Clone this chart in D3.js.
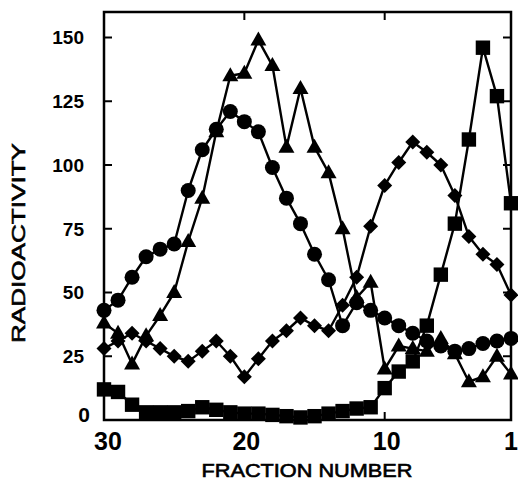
<!DOCTYPE html>
<html><head><meta charset="utf-8">
<script src="https://cdn.jsdelivr.net/npm/d3@7"></script>
<style>
html,body{margin:0;padding:0;background:#fff;}
text{font-family:"Liberation Sans",Arial,Helvetica,sans-serif;fill:#000;}
</style></head>
<body><svg id="chart" width="518" height="480"></svg>
<script>
const fractions = [30,29,28,27,26,25,24,23,22,21,20,19,18,17,16,15,14,13,12,11,10,9,8,7,6,5,4,3,2,1];
const circles  = [43,47,56,64,67,69,90,106,114,121,117,113,99,87,77,65,55,37,46,43,40,37,34,31,29,27,28,30,31,32];
const triangles= [38,34,22,33,41,50,70,87,113,135,136,149,139,107,130,107,97,75,48,54,20,29,28,27,32,26,15,17,25,18];
const diamonds = [28,31,34,31,28,25,23,27,31,25,17,24,31,35,40,37,35,45,56,76,92,101,109,105,100,88,72,65,61,49];
const squares  = [12,11,6,3,3,3,3.5,5,4,3,2.5,2.5,2,1.5,1,1.5,2.5,3.5,4.5,5,12.5,19,23,37,57,77,110,146,127,85];
const xTicks = [30,20,10,1];
const yTicks = [0,25,50,75,100,125,150];
const xTitle = "FRACTION NUMBER";
const yTitle = "RADIOACTIVITY";

const svg = d3.select("#chart");
const L=104, R=511, T=12, B=420;
const x = d3.scaleLinear().domain([30,1]).range([L,R]);
const y = d3.scaleLinear().domain([0,160]).range([B,T]);

// frame
svg.append("rect").attr("x",L).attr("y",T).attr("width",R-L).attr("height",B-T)
  .attr("fill","none").attr("stroke","#000").attr("stroke-width",2.5);

// ticks
const tl=8;
const g = svg.append("g").attr("stroke","#000").attr("stroke-width",2);
yTicks.forEach(v=>{
  g.append("line").attr("x1",L).attr("x2",L+tl).attr("y1",y(v)).attr("y2",y(v));
  g.append("line").attr("x1",R).attr("x2",R-tl).attr("y1",y(v)).attr("y2",y(v));
});
xTicks.forEach(v=>{
  g.append("line").attr("x1",x(v)).attr("x2",x(v)).attr("y1",B).attr("y2",B-tl);
  g.append("line").attr("x1",x(v)).attr("x2",x(v)).attr("y1",T).attr("y2",T+tl);
});

// tick labels
yTicks.forEach(v=>{
  const big = v===0;
  svg.append("text").attr("x", big?90:84).attr("y", y(v)).attr("dy", big?"0.1em":"0.36em")
    .attr("text-anchor","end").attr("font-weight","bold").attr("font-size", big?21:19).text(v);
});
xTicks.forEach(v=>{
  svg.append("text").attr("x", x(v) + (v===30?4:(v===1?0:2))).attr("y",450)
    .attr("text-anchor","middle").attr("font-weight","bold").attr("font-size",25).text(v);
});
svg.append("text").attr("x",307).attr("y",476.5).attr("text-anchor","middle")
  .attr("font-size",18.5).attr("stroke","#000").attr("stroke-width",0.6)
  .attr("textLength",211).attr("lengthAdjust","spacingAndGlyphs").text(xTitle);
svg.append("text").attr("transform","translate(25,243) rotate(-90)").attr("text-anchor","middle")
  .attr("font-size",18.5).attr("stroke","#000").attr("stroke-width",0.6)
  .attr("textLength",200).attr("lengthAdjust","spacingAndGlyphs").text(yTitle);

const line = d3.line().x(d=>x(d[0])).y(d=>y(d[1]));
function series(vals, shape){
  const data = fractions.map((f,i)=>[f,vals[i]]);
  svg.append("path").datum(data).attr("d",line).attr("fill","none")
    .attr("stroke","#000").attr("stroke-width",2.4).attr("stroke-linejoin","round");
  const gg = svg.append("g");
  data.forEach(d=>{
    const cx=x(d[0]), cy=y(d[1]);
    if(shape==="circle") gg.append("circle").attr("cx",cx).attr("cy",cy).attr("r",7.5);
    else if(shape==="square") gg.append("rect").attr("x",cx-7.2).attr("y",cy-7.2).attr("width",14.4).attr("height",14.4);
    else if(shape==="diamond") gg.append("path").attr("d",`M${cx},${cy-7.5}L${cx+7.5},${cy}L${cx},${cy+7.5}L${cx-7.5},${cy}Z`);
    else if(shape==="triangle") gg.append("path").attr("d",`M${cx},${cy-8.5}L${cx+8},${cy+5.5}L${cx-8},${cy+5.5}Z`);
  });
  gg.attr("fill","#000");
}
series(squares,"square");
series(diamonds,"diamond");
series(triangles,"triangle");
series(circles,"circle");
</script>
</body></html>
